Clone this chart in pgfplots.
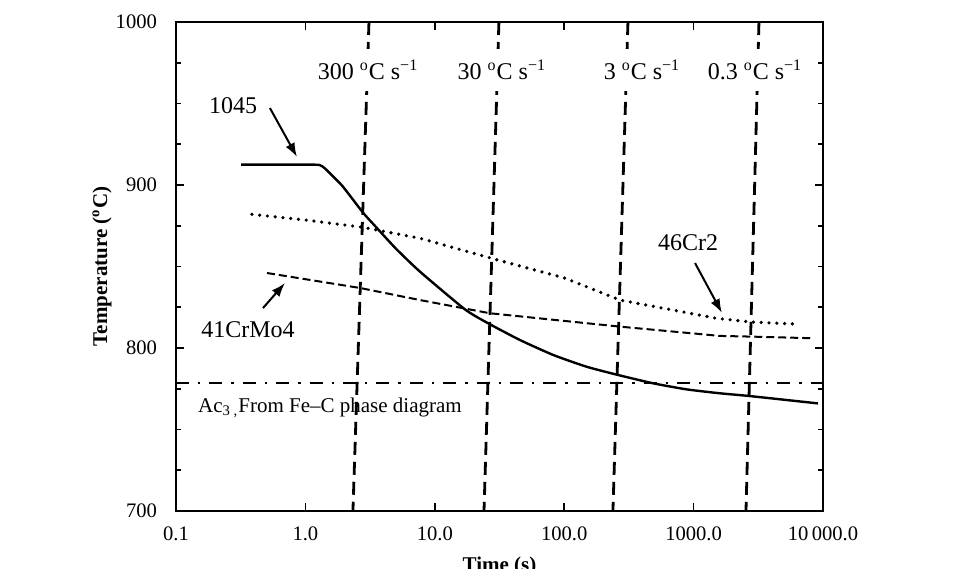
\documentclass[border=0pt]{standalone}
\usepackage{fontspec}
\setmainfont{Liberation Serif}
\usepackage{pgfplots}
\pgfplotsset{compat=1.18}
\usetikzlibrary{arrows.meta}

\begin{document}
\begin{tikzpicture}
\begin{axis}[
    name=ax,
    scale only axis,
    width=323.5pt, height=244.5pt,
    xmode=log, log basis x=10,
    xmin=0.1, xmax=10000,
    ymin=700, ymax=1000,
    xtick={0.1,1,10,100,1000,10000},
    xticklabels={0.1,1.0,10.0,100.0,1000.0,10\,000.0},
    ytick={700,800,900,1000},
    yticklabels={700,800,900,1000},
    minor y tick num=3,
    tick align=inside,
    major tick length=4pt, minor tick length=2.5pt,
    tick style={black, line width=0.8pt},
    axis line style={line width=0.9pt},
    every tick label/.append style={font=\fontsize{10.3}{12}\selectfont},
    xticklabel style={yshift=-4.5pt},
    yticklabel style={xshift=-6pt},
    xlabel={\bfseries Time (s)},
    xlabel style={at={(axis description cs:0.5,0)}, anchor=north, yshift=-19.5pt,
        font=\fontsize{10.5}{12}\selectfont},
    ylabel={\bfseries Temperature (\textsuperscript{o}C)},
    ylabel style={at={(axis description cs:0,0.5)}, anchor=center, yshift=37pt,
        font=\fontsize{10.5}{12}\selectfont},
]
% cooling-rate lines
\addplot[black, line width=1.4pt, dash pattern=on 6.5pt off 3.5pt] coordinates {(3.10,1000) (2.33,700)};
\addplot[black, line width=1.4pt, dash pattern=on 6.5pt off 3.5pt] coordinates {(31.3,1000) (24.0,700)};
\addplot[black, line width=1.4pt, dash pattern=on 6.5pt off 3.5pt] coordinates {(311,1000) (238,700)};
\addplot[black, line width=1.4pt, dash pattern=on 6.5pt off 3.5pt] coordinates {(3200,1000) (2540,700)};

% Ac3
\addplot[black, line width=1.2pt, dash pattern=on 6.5pt off 4.5pt on 1.2pt off 4.5pt] coordinates {(0.1,778.5) (10000,778.5)};

% 1045
\addplot[black, line width=1.2pt, smooth, tension=0.35] coordinates {
    (0.318,912.5) (1.0,912.5) (1.28,912.3) (1.4,910.5) (1.6,906) (1.95,899)
    (2.79,883) (3.57,873.6) (5,861) (7.69,846.8) (17.1,823.7) (25.9,815.1)
    (45.5,804.9) (82.4,795.7) (149,788.5) (262,783.4) (489,778.3) (885,774.6)
    (1600,772.2) (2730,770.5) (9140,766)
};

% 46Cr2
\addplot[black, line width=1.8pt, line cap=round, dash pattern=on 0pt off 3.9pt] coordinates {
    (0.386,882) (1.0,878.5) (2.79,874) (7.69,867.3) (27.5,855) (100,843)
    (270,829.4) (1507,818.2) (2730,816) (6080,814.7)
};

% 41CrMo4
\addplot[black, line width=1pt, dash pattern=on 4pt off 2pt] coordinates {
    (0.505,846) (2.65,836.8) (7.69,829.4) (26.7,821.3) (270,813.1)
    (1600,807.4) (2730,807) (8220,806)
};

% rate labels
\foreach \x/\t in {3.05/300, 33.0/30, 399/3, 2980/0.3}{
    \edef\tmp{\noexpand\node[fill=white, inner xsep=2pt, inner ysep=5.5pt,
        font=\noexpand\fontsize{12}{14}\noexpand\selectfont]
        at (axis cs:\x,970.6) {\t\space\noexpand\textsuperscript{o}C s\noexpand\textsuperscript{−1}};}
    \tmp
}

% annotations
\node[font=\fontsize{12}{14}\selectfont] at (axis cs:0.276,948.5) {1045};
\draw[line width=1pt, -{Latex[length=7pt,width=5pt]}] (axis cs:0.532,947.2) -- (axis cs:0.861,917.2);
\node[font=\fontsize{12}{14}\selectfont] at (axis cs:0.360,811) {41CrMo4};
\draw[line width=1pt, -{Latex[length=7pt,width=5pt]}] (axis cs:0.470,824.5) -- (axis cs:0.696,839.9);
\node[font=\fontsize{12}{14}\selectfont] at (axis cs:906,864.4) {46Cr2};
\draw[line width=1pt, -{Latex[length=7pt,width=5pt]}] (axis cs:1026,852.1) -- (axis cs:1656,821.5);
\node[font=\fontsize{10.5}{12}\selectfont] at (axis cs:1.55,763.2) {Ac\textsubscript{3~,}From Fe–C phase diagram};
\end{axis}
\pgfresetboundingbox
\path[use as bounding box] ([xshift=-88pt,yshift=-29pt]ax.south west) rectangle ([xshift=76.5pt,yshift=11pt]ax.north east);
\end{tikzpicture}
\end{document}
